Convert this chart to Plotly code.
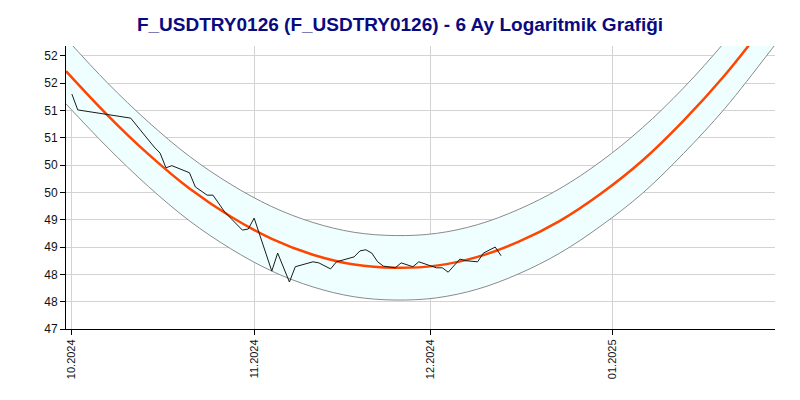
import plotly.graph_objects as go

# Price series
price_dates = ["2024-10-01", "2024-10-02", "2024-10-11", "2024-10-15", "2024-10-16", "2024-10-17",
               "2024-10-18", "2024-10-21", "2024-10-22", "2024-10-24", "2024-10-25", "2024-10-27",
               "2024-10-30", "2024-10-31", "2024-11-01", "2024-11-04", "2024-11-05", "2024-11-07",
               "2024-11-08", "2024-11-11", "2024-11-12", "2024-11-14", "2024-11-15", "2024-11-18",
               "2024-11-19", "2024-11-20", "2024-11-21", "2024-11-22", "2024-11-23", "2024-11-25",
               "2024-11-26", "2024-11-28", "2024-11-29", "2024-12-01", "2024-12-02", "2024-12-03",
               "2024-12-04", "2024-12-06", "2024-12-07", "2024-12-09", "2024-12-10", "2024-12-12",
               "2024-12-13"]
price_values = [51.30, 51.01, 50.86, 50.33, 50.22, 49.95,
                49.99, 49.86, 49.60, 49.45, 49.45, 49.14,
                48.81, 48.83, 49.03, 48.06, 48.39, 47.86,
                48.14, 48.23, 48.21, 48.10, 48.23, 48.32,
                48.43, 48.45, 48.39, 48.23, 48.15, 48.12,
                48.21, 48.14, 48.23, 48.15, 48.12, 48.12,
                48.04, 48.28, 48.25, 48.23, 48.39, 48.50,
                48.34]

# Trend channel
trend_dates = ["2024-09-30", "2024-10-07", "2024-10-14", "2024-10-21", "2024-10-28", "2024-11-04",
               "2024-11-11", "2024-11-18", "2024-11-25", "2024-12-02", "2024-12-09", "2024-12-16",
               "2024-12-23", "2024-12-30", "2025-01-06", "2025-01-13", "2025-01-20", "2025-01-27",
               "2025-01-29"]
trend_center = [51.72, 50.92, 50.20, 49.57, 49.06, 48.65,
                48.36, 48.18, 48.12, 48.16, 48.32, 48.60,
                48.98, 49.48, 50.08, 50.81, 51.64, 52.59,
                52.88]
trend_upper = [52.32, 51.51, 50.79, 50.16, 49.65, 49.24,
               48.95, 48.77, 48.71, 48.75, 48.91, 49.19,
               49.57, 50.07, 50.68, 51.41, 52.25, 53.20,
               53.50]
trend_lower = [51.12, 50.33, 49.61, 48.98, 48.47, 48.06,
               47.77, 47.59, 47.53, 47.57, 47.73, 48.01,
               48.39, 48.89, 49.48, 50.21, 51.03, 51.98,
               52.26]

y_tickvals = [47.0, 47.5, 48.0, 48.5, 49.0, 49.5, 50.0, 50.5, 51.0, 51.5, 52.0]
y_ticktext = ["47", "48", "48", "49", "49", "50", "50", "51", "51", "52", "52"]
x_tickvals = ["2024-10-01", "2024-11-01", "2024-12-01", "2025-01-01"]
x_ticktext = ["10.2024", "11.2024", "12.2024", "01.2025"]

fig = go.Figure()
fig.add_trace(go.Scatter(x=trend_dates, y=trend_lower, mode="lines",
                         line=dict(color="#8a8a8a", width=1, shape="spline"),
                         hoverinfo="skip", showlegend=False))
fig.add_trace(go.Scatter(x=trend_dates, y=trend_upper, mode="lines",
                         line=dict(color="#8a8a8a", width=1, shape="spline"),
                         fill="tonexty", fillcolor="#efffff",
                         hoverinfo="skip", showlegend=False))
fig.add_trace(go.Scatter(x=trend_dates, y=trend_center, mode="lines",
                         line=dict(color="#ff4500", width=2.5, shape="spline"),
                         showlegend=False))
fig.add_trace(go.Scatter(x=price_dates, y=price_values, mode="lines",
                         line=dict(color="#1a1a1a", width=1),
                         showlegend=False))

fig.update_layout(
    width=800, height=400,
    margin=dict(l=66, r=25, t=46, b=71),
    paper_bgcolor="white", plot_bgcolor="white",
    font=dict(family="Liberation Sans, Arial, sans-serif", color="#111"),
    title=dict(text="<b>F_USDTRY0126 (F_USDTRY0126) - 6 Ay Logaritmik Grafiği</b>",
               x=0.5, xanchor="center", y=0.94, yanchor="middle",
               font=dict(size=19, color="#0a0a80",
                         family="Liberation Sans, Arial, sans-serif")),
    showlegend=False,
)
fig.update_xaxes(
    type="date",
    range=["2024-09-30 00:00", "2025-01-28 14:00"],
    tickvals=x_tickvals, ticktext=x_ticktext, tickangle=-90,
    tickfont=dict(size=11, color="#111"),
    showgrid=True, gridcolor="#d3d3d3", gridwidth=1,
    showline=True, linecolor="black", linewidth=1,
    ticks="outside", ticklen=5, tickcolor="black",
    zeroline=False,
)
fig.update_yaxes(
    range=[47.0, 52.18],
    tickvals=y_tickvals, ticktext=y_ticktext,
    tickfont=dict(size=12, color="#111"),
    showgrid=True, gridcolor="#d3d3d3", gridwidth=1,
    showline=True, linecolor="black", linewidth=1,
    ticks="outside", ticklen=5, tickcolor="black",
    zeroline=False,
)

fig.write_html("out.html")
